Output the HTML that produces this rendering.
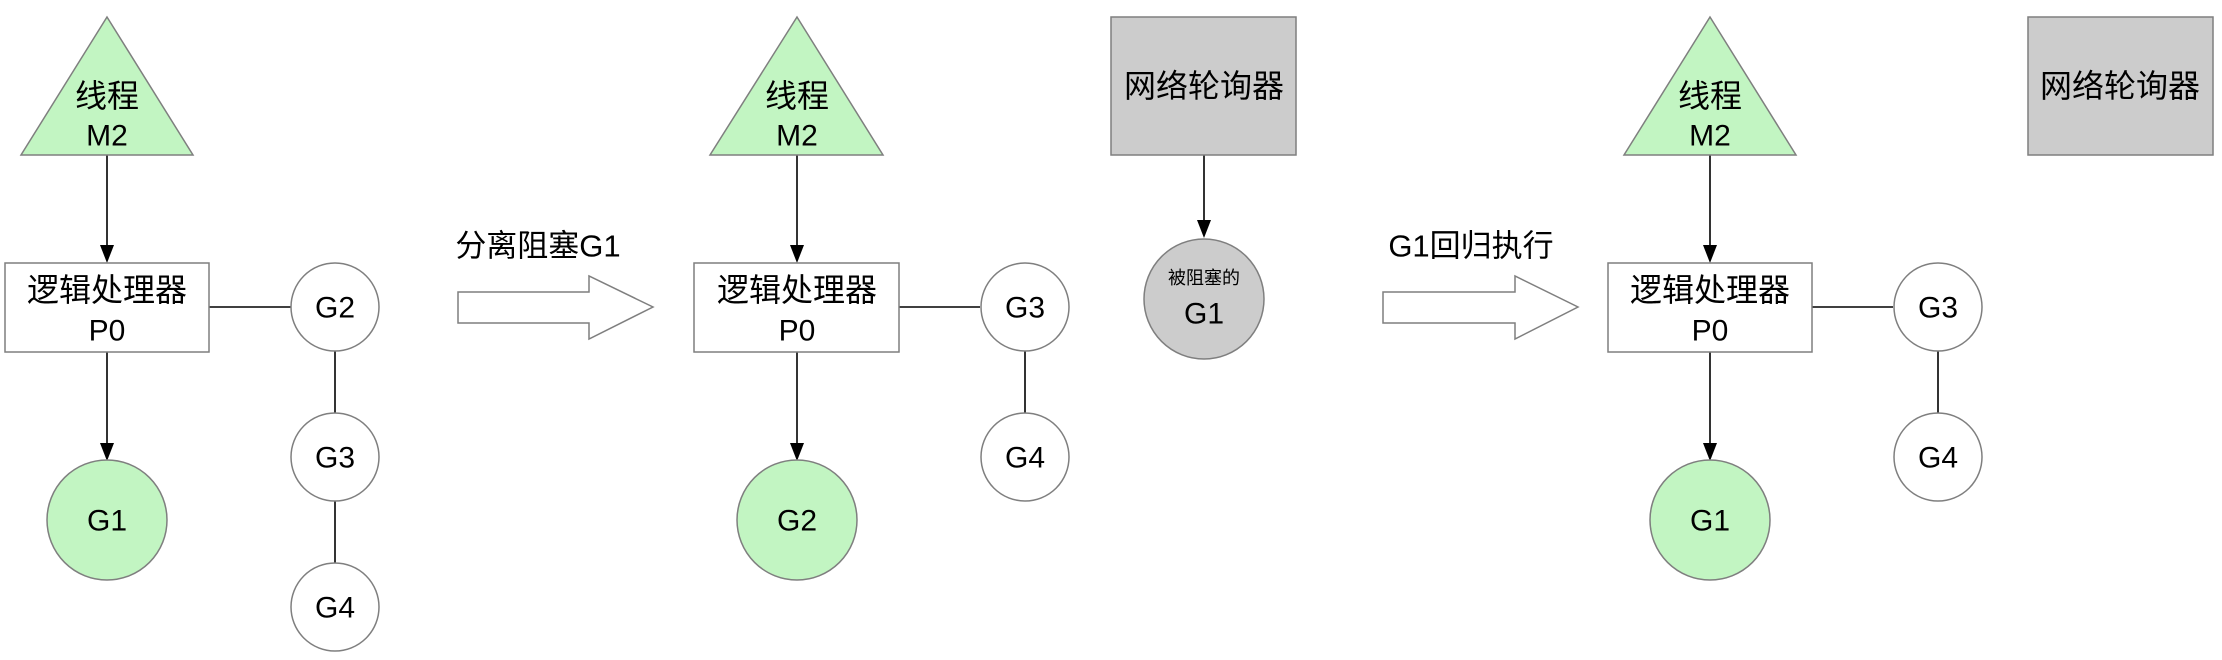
<!DOCTYPE html>
<html><head><meta charset="utf-8"><style>
html,body{margin:0;padding:0;background:#fff;}
svg{display:block;}
text{font-family:"Liberation Sans","Noto Sans CJK SC",sans-serif;fill:#000;text-anchor:middle;dominant-baseline:central;}
</style></head><body>
<svg width="2222" height="660" viewBox="0 0 2222 660" xmlns="http://www.w3.org/2000/svg">
<g stroke="#000" stroke-width="1.6" fill="none">
<line x1="107" y1="155" x2="107" y2="245"/>
<path d="M100,245 L114,245 L107,263 Z" fill="#000" stroke="none"/>
<line x1="107" y1="352" x2="107" y2="443"/>
<path d="M100,443 L114,443 L107,461 Z" fill="#000" stroke="none"/>
<line x1="209" y1="307" x2="291" y2="307"/>
<line x1="335" y1="350" x2="335" y2="414"/>
<line x1="335" y1="501" x2="335" y2="564"/>
<line x1="797" y1="155" x2="797" y2="245"/>
<path d="M790,245 L804,245 L797,263 Z" fill="#000" stroke="none"/>
<line x1="797" y1="352" x2="797" y2="443"/>
<path d="M790,443 L804,443 L797,461 Z" fill="#000" stroke="none"/>
<line x1="899" y1="307" x2="980" y2="307"/>
<line x1="1025" y1="351" x2="1025" y2="414"/>
<line x1="1204" y1="155" x2="1204" y2="220"/>
<path d="M1197,220 L1211,220 L1204,238 Z" fill="#000" stroke="none"/>
<line x1="1710" y1="155" x2="1710" y2="245"/>
<path d="M1703,245 L1717,245 L1710,263 Z" fill="#000" stroke="none"/>
<line x1="1710" y1="352" x2="1710" y2="443"/>
<path d="M1703,443 L1717,443 L1710,461 Z" fill="#000" stroke="none"/>
<line x1="1812" y1="307" x2="1893" y2="307"/>
<line x1="1938" y1="351" x2="1938" y2="414"/>
</g>
<g stroke="#7f7f7f" stroke-width="1.5">
<polygon points="107,17 21,155 193,155" fill="#c2f5c2"/>
<rect x="5" y="263" width="204" height="89" fill="#fff"/>
<circle cx="335" cy="307" r="44" fill="#fff"/>
<circle cx="335" cy="457" r="44" fill="#fff"/>
<circle cx="335" cy="607" r="44" fill="#fff"/>
<circle cx="107" cy="520" r="60" fill="#c2f5c2"/>
<polygon points="458,292 589,292 589,276 653,307 589,339 589,323 458,323" fill="#fff"/>
<polygon points="797,17 710,155 883,155" fill="#c2f5c2"/>
<rect x="694" y="263" width="205" height="89" fill="#fff"/>
<circle cx="1025" cy="307" r="44" fill="#fff"/>
<circle cx="1025" cy="457" r="44" fill="#fff"/>
<circle cx="797" cy="520" r="60" fill="#c2f5c2"/>
<rect x="1111" y="17" width="185" height="138" fill="#cccccc"/>
<circle cx="1204" cy="299" r="60" fill="#cccccc"/>
<polygon points="1383,292 1515,292 1515,276 1578,307 1515,339 1515,323 1383,323" fill="#fff"/>
<polygon points="1710,17 1624,155 1796,155" fill="#c2f5c2"/>
<rect x="1608" y="263" width="204" height="89" fill="#fff"/>
<circle cx="1938" cy="307" r="44" fill="#fff"/>
<circle cx="1938" cy="457" r="44" fill="#fff"/>
<circle cx="1710" cy="520" r="60" fill="#c2f5c2"/>
<rect x="2028" y="17" width="185" height="138" fill="#cccccc"/>
</g>
<g font-size="30">
<text x="107" y="96" font-size="32">线程</text><text x="107" y="136">M2</text>
<text x="107" y="290" font-size="32">逻辑处理器</text><text x="107" y="331">P0</text>
<text x="335" y="308">G2</text><text x="335" y="458">G3</text><text x="335" y="608">G4</text>
<text x="107" y="521">G1</text>
<text x="538" y="246" font-size="31">分离阻塞G1</text>
<text x="797" y="96" font-size="32">线程</text><text x="797" y="136">M2</text>
<text x="797" y="290" font-size="32">逻辑处理器</text><text x="797" y="331">P0</text>
<text x="1025" y="308">G3</text><text x="1025" y="458">G4</text>
<text x="797" y="521">G2</text>
<text x="1204" y="86" font-size="32">网络轮询器</text>
<text x="1204" y="314">G1</text>
<text x="1471" y="246" font-size="31">G1回归执行</text>
<text x="1710" y="96" font-size="32">线程</text><text x="1710" y="136">M2</text>
<text x="1710" y="290" font-size="32">逻辑处理器</text><text x="1710" y="331">P0</text>
<text x="1938" y="308">G3</text><text x="1938" y="458">G4</text>
<text x="1710" y="521">G1</text>
<text x="2120" y="86" font-size="32">网络轮询器</text>
</g>
<text x="1204" y="278" font-size="18">被阻塞的</text>
</svg>
</body></html>
